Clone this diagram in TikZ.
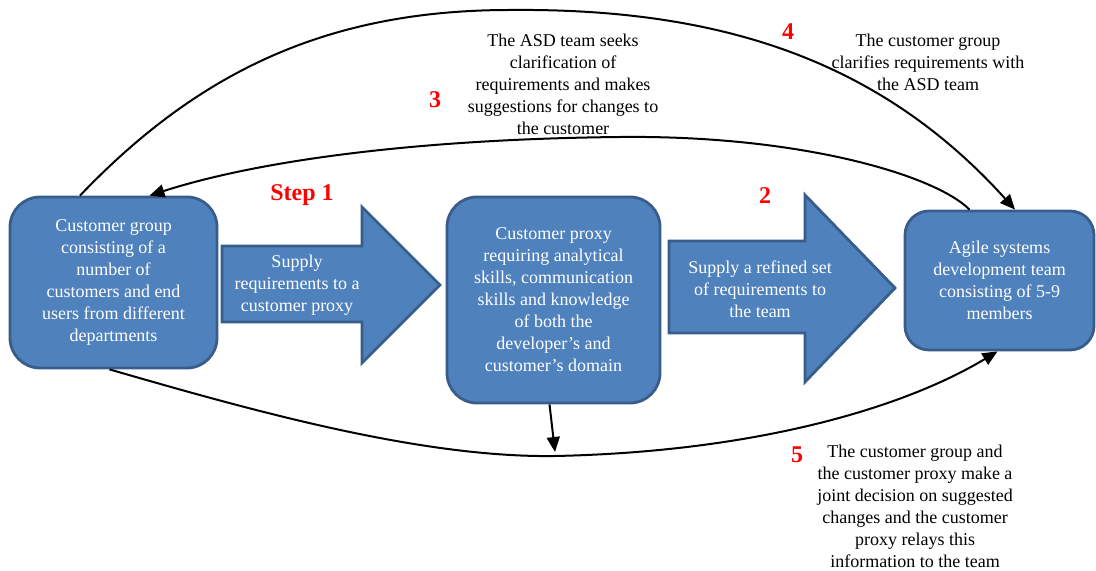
\documentclass[tikz,border=0pt]{standalone}
\usepackage{fontspec}
\setmainfont{Liberation Serif}
\usetikzlibrary{arrows.meta}
\definecolor{boxFill}{RGB}{79,129,189}
\definecolor{boxEdge}{RGB}{56,93,138}

\begin{document}
\begin{tikzpicture}[x=0.5pt, y=-0.5pt, >={Triangle[length=7.5pt,width=6.5pt]},
  font=\fontsize{9}{11}\selectfont,
  block/.style={draw=boxEdge, fill=boxFill, line width=1.4pt, rounded corners=15pt,
    text=white, align=center, inner sep=0pt},
  bigarrow/.style={draw=boxEdge, fill=boxFill, line width=1.4pt},
  arrowtext/.style={text=white, align=center},
  note/.style={align=center},
  stepnum/.style={text=red, font=\fontsize{12}{14}\selectfont\bfseries},
  flow/.style={->, line width=1pt}]
  \useasboundingbox (0,0) rectangle (1096,571);

  \node[block, minimum width=103.5pt, minimum height=85.5pt] (cgroup) at (113.5,282.5)
    {Customer group\\consisting of a\\number of\\customers and end\\users from different\\departments};
  \node[block, minimum width=106.5pt, minimum height=103pt] (proxy) at (553.5,300)
    {Customer proxy\\requiring analytical\\skills, communication\\skills and knowledge\\of both the\\developer’s and\\customer’s domain};
  \node[block, rounded corners=12pt, minimum width=94.5pt, minimum height=69.5pt] (agile) at (999.5,280.5)
    {Agile systems\\development team\\consisting of 5-9\\members};

  \draw[bigarrow] (222,246) -- (362,246) -- (362,207) -- (440,285) -- (362,363) -- (362,322) -- (222,322) -- cycle;
  \node[arrowtext] (supply) at (297,285) {Supply\\requirements to a\\customer proxy};
  \draw[bigarrow] (669,241) -- (805,241) -- (805,195) -- (895,288) -- (805,382) -- (805,333) -- (669,333) -- cycle;
  \node[arrowtext] (refine) at (760,289) {Supply a refined set\\of requirements to\\the team};

  \node[stepnum] (s1) at (302,195) {Step 1};
  \node[stepnum] (s2) at (765,196) {2};
  \node[stepnum] (s3) at (435,100) {3};
  \node[stepnum] (s4) at (788,32) {4};
  \node[stepnum] (s5) at (797,455) {5};

  \node[note] (n3) at (563,84) {The ASD team seeks\\clarification of\\requirements and makes\\suggestions for changes to\\the customer};
  \node[note] (n4) at (928,62) {The customer group\\clarifies requirements with\\the ASD team};
  \node[note] (n5) at (915,506) {The customer group and\\the customer proxy make a\\joint decision on suggested\\changes and the customer\\proxy relays this\\information to the team};

  \draw[flow] ([xshift=-16.75pt]cgroup.north) .. controls (200,70) and (330,10) .. (510,10)
    .. controls (720,8) and (880,60) .. ([xshift=7.75pt]agile.north);
  \draw[flow] ([xshift=-15pt]agile.north) .. controls (935,175) and (800,135) .. (620,137)
    .. controls (420,139) and (260,160) .. ([xshift=18pt]cgroup.north);
  \draw[flow] ([xshift=-2pt]cgroup.south) .. controls (250,410) and (420,458) .. (555,456)
    .. controls (750,452) and (900,410) .. ([xshift=-1pt]agile.south);
  \coordinate (drop) at (555,452);
  \draw[flow] ([xshift=-2pt]proxy.south) -- (drop);
\end{tikzpicture}
\end{document}
